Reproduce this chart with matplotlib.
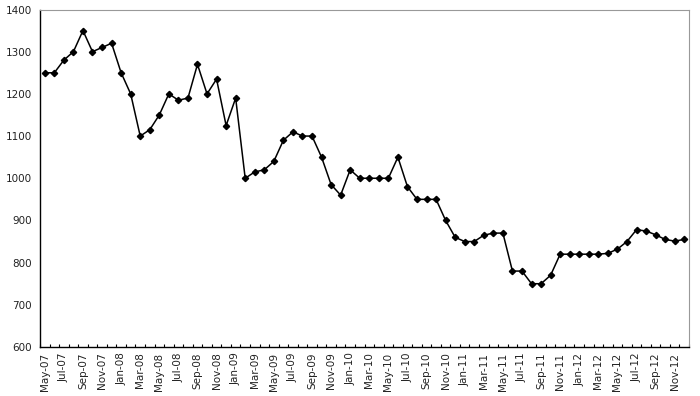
import matplotlib.pyplot as plt
import numpy as np

# monthly values, May-07 .. Dec-12
months = ["May", "Jun", "Jul", "Aug", "Sep", "Oct", "Nov", "Dec"]
all_months = ["Jan", "Feb", "Mar", "Apr", "May", "Jun",
              "Jul", "Aug", "Sep", "Oct", "Nov", "Dec"]
labels = [m + "-07" for m in months]
for yr in ["08", "09", "10", "11", "12"]:
    labels += [m + "-" + yr for m in all_months]

v2007 = [1250, 1250, 1280, 1300, 1350, 1300, 1310, 1320]
v2008 = [1250, 1200, 1100, 1115, 1150, 1200, 1185, 1190, 1270, 1200, 1235, 1125]
v2009 = [1190, 1000, 1015, 1020, 1040, 1090, 1110, 1100, 1100, 1050, 985, 960]
v2010 = [1020, 1000, 1000, 1000, 1000, 1050, 980, 950, 950, 950, 900, 860]
v2011 = [850, 850, 865, 870, 870, 780, 780, 750, 750, 770, 820, 820]
v2012 = [820, 820, 820, 822, 832, 850, 878, 875, 866, 855, 851, 855]
values = v2007 + v2008 + v2009 + v2010 + v2011 + v2012

y_ticks = [600, 700, 800, 900, 1000, 1100, 1200, 1300, 1400]

fig = plt.figure(figsize=(7, 3.96), dpi=100)
ax = fig.add_axes([40/700, 1 - 347/396, 649/700, 337.5/396])

x = np.arange(len(values))
ax.plot(x, values, color='black', linewidth=1.1, marker='D', markersize=3.2,
        markerfacecolor='black', markeredgecolor='black')

ax.set_xlim(-0.5, len(values) - 0.5)
ax.set_ylim(600, 1400)
ax.set_yticks(y_ticks)
ax.tick_params(axis='y', length=0, labelsize=7.5, pad=6, colors='#222222')

ax.set_xticks(x[::2])
ax.set_xticklabels(labels[::2], rotation=90, fontsize=7.5, color='#222222')
ax.set_xticks(np.arange(-0.5, len(values)), minor=True)
ax.tick_params(axis='x', which='major', length=0, pad=4)
ax.tick_params(axis='x', which='minor', length=2.5, direction='in', width=0.8)

for s in ['top', 'right']:
    ax.spines[s].set_color('#999999')
    ax.spines[s].set_linewidth(0.8)
for s in ['left', 'bottom']:
    ax.spines[s].set_color('black')
    ax.spines[s].set_linewidth(1.0)

fig.savefig("out.png", dpi=100)
